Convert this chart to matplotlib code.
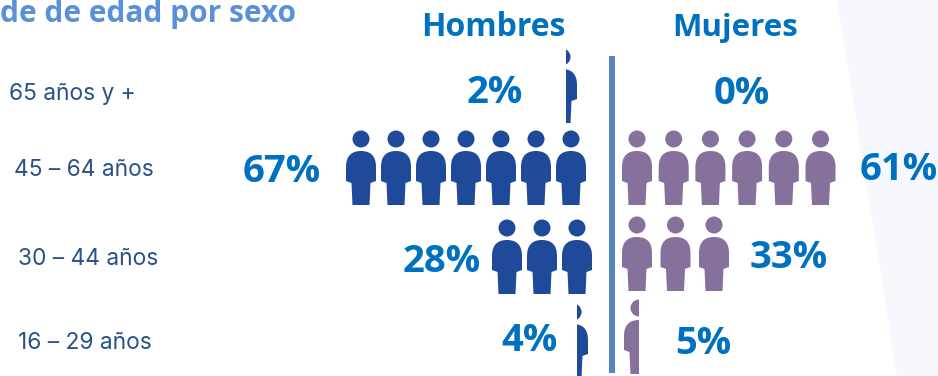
import matplotlib
matplotlib.use("Agg")
import matplotlib.pyplot as plt
from matplotlib.patches import Circle, PathPatch, Polygon, Rectangle
from matplotlib.path import Path

# data, top row to bottom row
edades = ["65 años y +", "45 – 64 años", "30 – 44 años", "16 – 29 años"]
pct_hombres = [2, 67, 28, 4]
pct_mujeres = [0, 61, 33, 5]
iconos_hombres = [0.37, 7, 3, 0.37]
iconos_mujeres = [0, 6, 3, 0.5]

# layout, pixels of the original image
edad_xy = [(9, 100), (14, 176), (18, 265), (18, 349)]
hom_pct_xy = [(495, 93), (282, 172), (442, 262), (530, 341)]
muj_pct_xy = [(742, 94), (899, 170), (789, 258), (703, 344)]
hom_x0 = [562, 571, 577, 573]   # centre of first icon next to the axis
muj_x0 = [0, 637, 637, 639]
hom_head_y = [57, 139, 228, 312]
muj_head_y = [0, 139, 225, 308]
hom_paso = 35
muj_paso = [0, 36.7, 38.5, 0]

AZUL = "#1F4A9A"
MORADO = "#86709C"
TEXTO = "#0070C0"

fig = plt.figure(figsize=(9.38, 3.76), dpi=100)
ax = fig.add_axes([0, 0, 1, 1])
ax.set_xlim(0, 938)
ax.set_ylim(376, 0)
ax.axis("off")

ax.add_patch(Polygon([(837, 0), (938, 0), (938, 376), (897, 376)], fc="#F7F8FD", ec="none", zorder=0))
ax.add_patch(Rectangle((609, 56), 6, 317, fc="#5585BE", ec="none", zorder=2))


def persona(cx, hy, color, frac=1.0, lado="der"):
    # head and body, body offsets measured from the head centre
    cuerpo = Path(
        [(cx - 15, hy + 42), (cx - 15, hy + 28), (cx - 15, hy + 12), (cx, hy + 12),
         (cx + 15, hy + 12), (cx + 15, hy + 28), (cx + 15, hy + 42),
         (cx + 9.5, hy + 44), (cx + 8.5, hy + 66), (cx - 8.5, hy + 66), (cx - 9.5, hy + 44),
         (cx - 15, hy + 42)],
        [Path.MOVETO, Path.LINETO, Path.CURVE3, Path.CURVE3, Path.CURVE3, Path.CURVE3,
         Path.LINETO, Path.LINETO, Path.LINETO, Path.LINETO, Path.LINETO, Path.CLOSEPOLY],
    )
    cabeza = Circle((cx, hy), 8.5, fc=color, ec="none", zorder=3)
    tronco = PathPatch(cuerpo, fc=color, ec="none", zorder=3)
    ax.add_patch(cabeza)
    ax.add_patch(tronco)
    if frac < 1:
        ancho = 30 * frac
        if lado == "der":
            clip = Rectangle((cx + 15 - ancho, hy - 10), ancho, 80, transform=ax.transData)
        else:
            clip = Rectangle((cx - 15, hy - 10), ancho, 80, transform=ax.transData)
        cabeza.set_clip_path(clip)
        tronco.set_clip_path(clip)


for i in range(4):
    n = iconos_hombres[i]
    if n < 1:
        persona(hom_x0[i], hom_head_y[i], AZUL, n, "der")
    else:
        for k in range(int(n)):
            persona(hom_x0[i] - k * hom_paso, hom_head_y[i], AZUL)
    n = iconos_mujeres[i]
    if 0 < n < 1:
        persona(muj_x0[i], muj_head_y[i], MORADO, n, "izq")
    elif n >= 1:
        for k in range(int(n)):
            persona(muj_x0[i] + k * muj_paso[i], muj_head_y[i], MORADO)

    ax.text(edad_xy[i][0], edad_xy[i][1], edades[i], fontsize=16.4, color="#2A5288",
            family="Inter", va="baseline", ha="left")
    ax.text(hom_pct_xy[i][0], hom_pct_xy[i][1], "%d%%" % pct_hombres[i], fontsize=27.5, color=TEXTO,
            family="Open Sans", weight="bold", va="center", ha="center")
    ax.text(muj_pct_xy[i][0], muj_pct_xy[i][1], "%d%%" % pct_mujeres[i], fontsize=27.5, color=TEXTO,
            family="Open Sans", weight="bold", va="center", ha="center")

ax.text(493, 36, "Hombres", fontsize=23, color=TEXTO, family="Open Sans", weight="bold", va="baseline", ha="center")
ax.text(735, 36, "Mujeres", fontsize=22.5, color=TEXTO, family="Open Sans", weight="bold", va="baseline", ha="center")
ax.text(0, 22, "de de edad por sexo", fontsize=21.5, color="#5B90D8", family="Open Sans", weight="bold",
        va="baseline", ha="left")

fig.savefig("out.png", dpi=100)
